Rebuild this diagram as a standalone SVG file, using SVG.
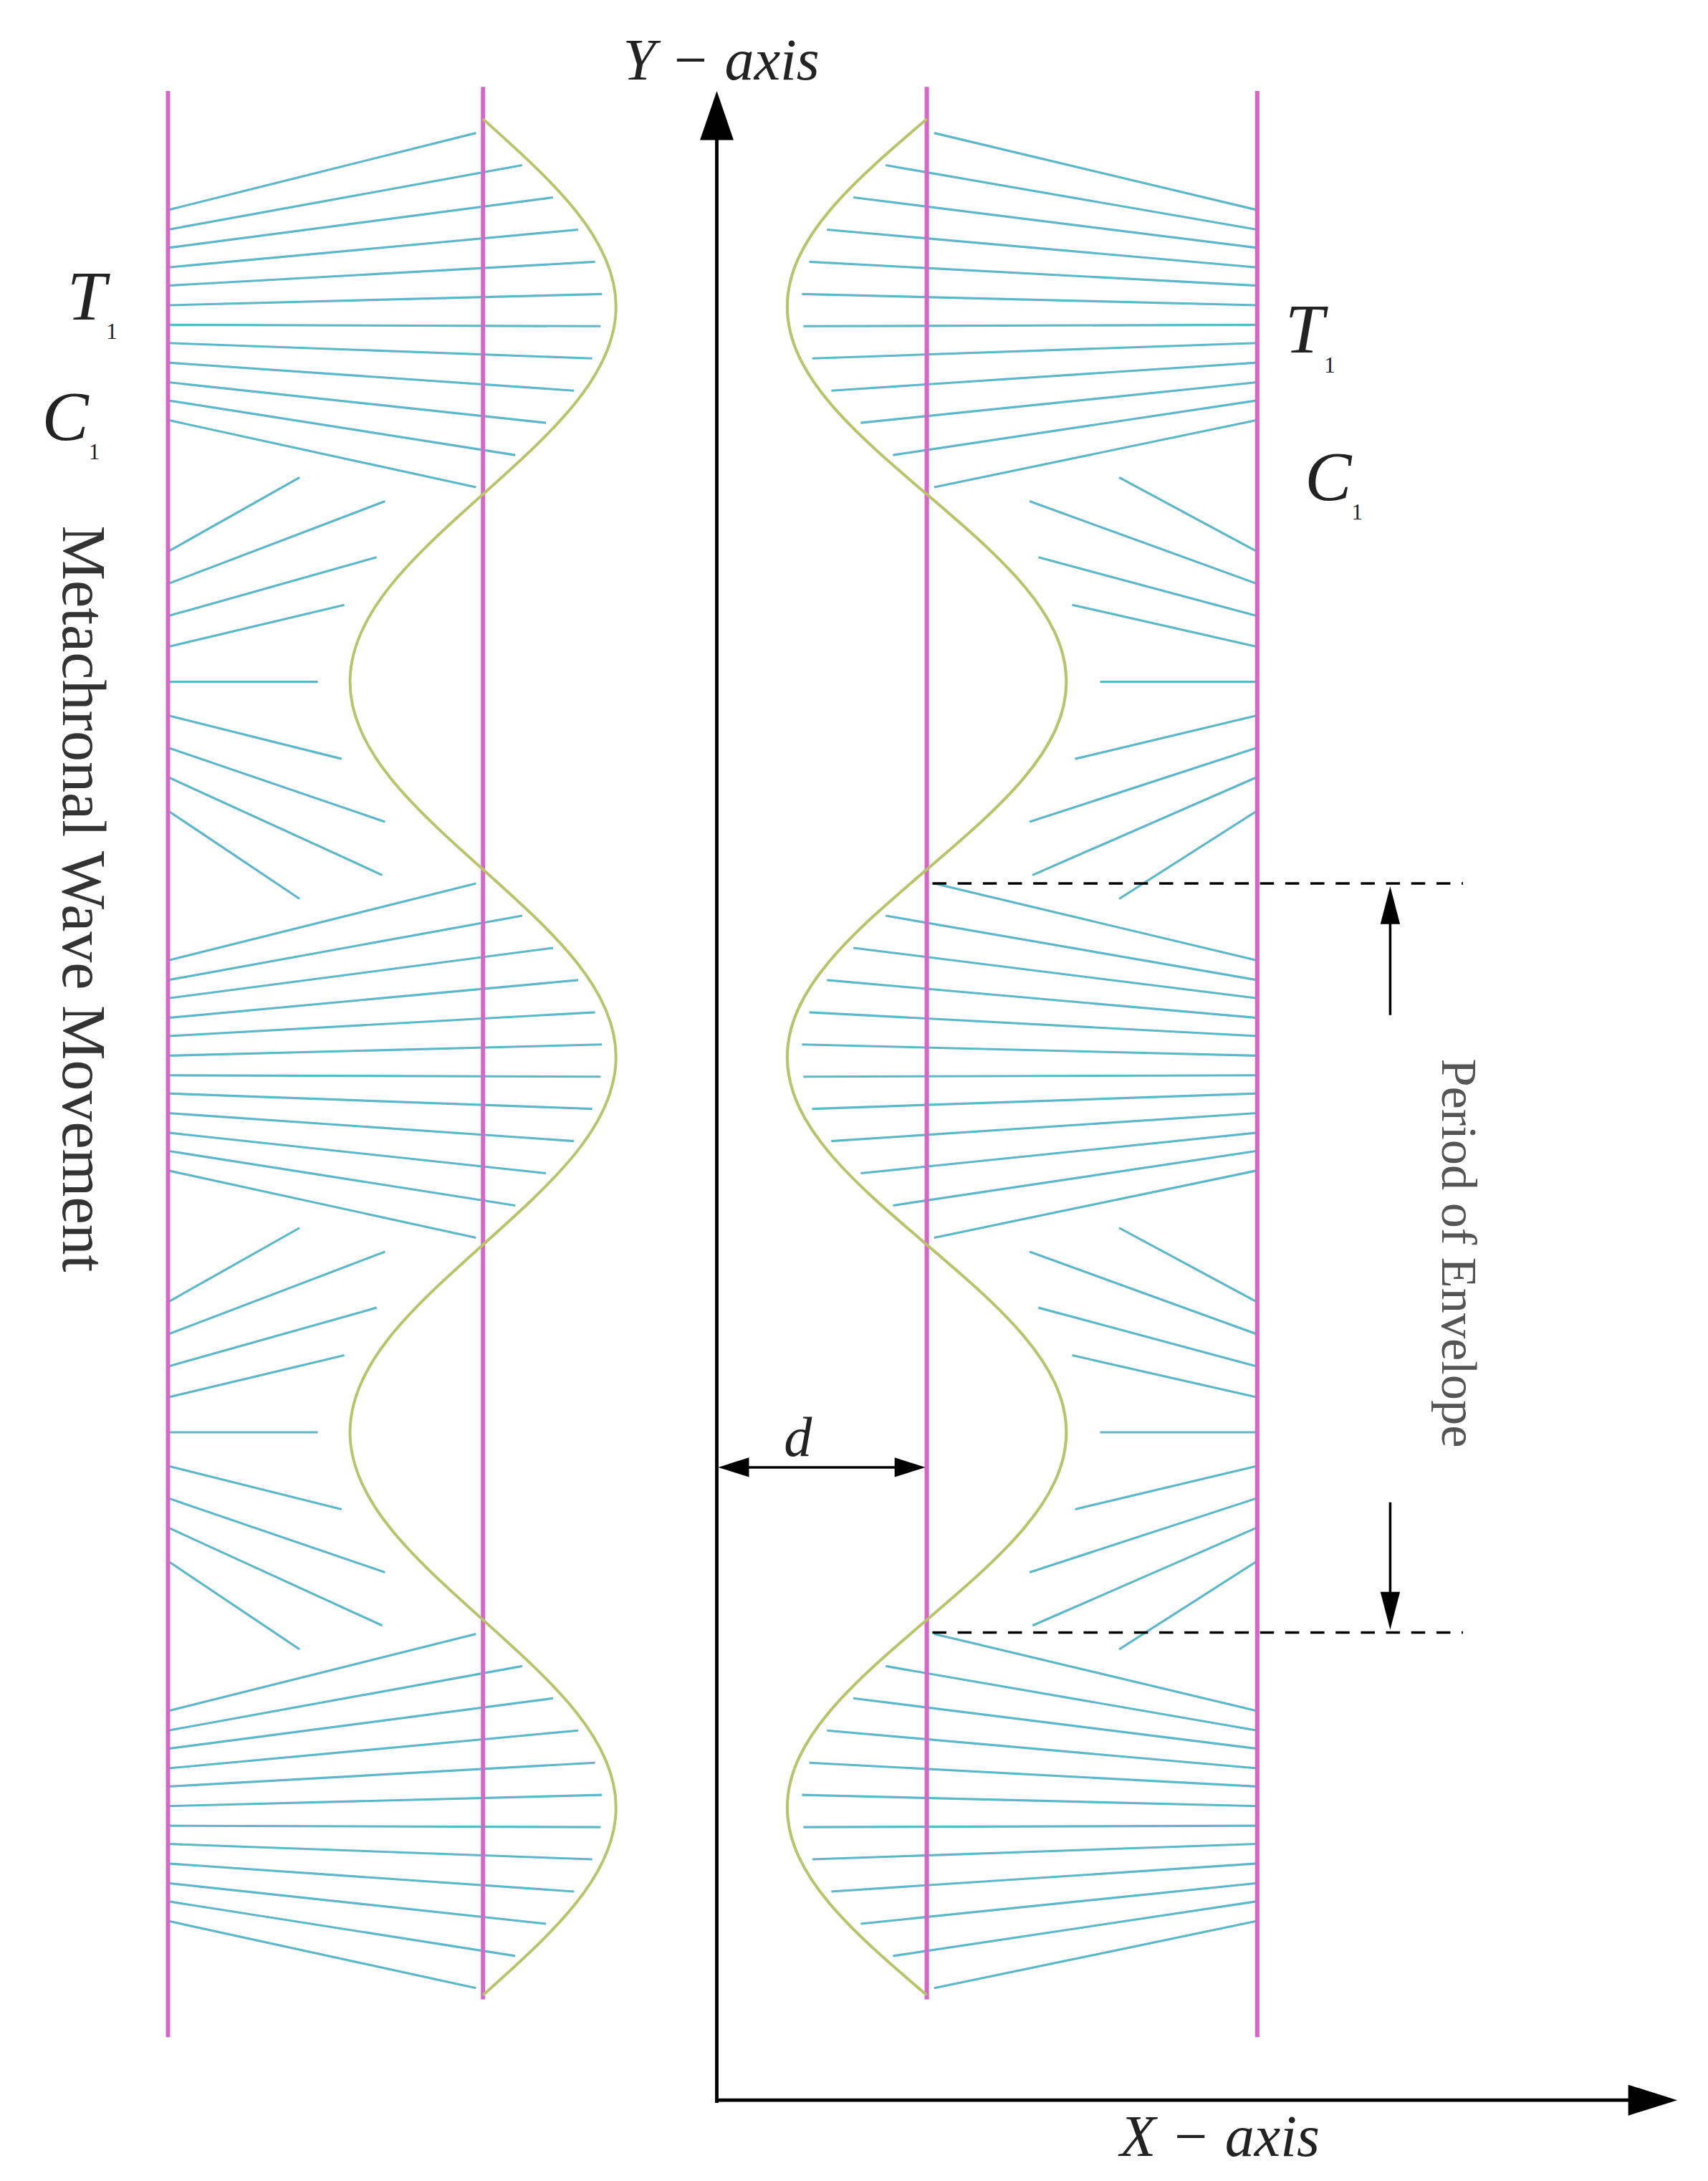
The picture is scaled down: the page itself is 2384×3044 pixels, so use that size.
<svg xmlns="http://www.w3.org/2000/svg" xmlns:xlink="http://www.w3.org/1999/xlink" width="2384" height="3044" viewBox="0 0 2384 3044">
<style>
.wall{stroke:#d865c8;stroke-width:3;fill:none}
.cil line{stroke:#5cb8c8;stroke-width:1.6}
.wave{stroke:#b9c46a;stroke-width:2;fill:none}
.ax{stroke:#000;stroke-width:2.5;fill:none}
.dash{stroke:#000;stroke-width:1.8;stroke-dasharray:10,8;fill:none}
.lab{font-family:"Liberation Serif",serif;font-style:italic;fill:#222}
</style>
<defs>
<g id="lobeA" class="cil">
<line x1="120" y1="150" x2="340" y2="95"/><line x1="120" y1="164" x2="373" y2="118"/>
<line x1="120" y1="177" x2="395" y2="141"/><line x1="120" y1="191" x2="413" y2="164"/>
<line x1="120" y1="204" x2="425" y2="187"/><line x1="120" y1="218" x2="430" y2="210"/>
<line x1="120" y1="232" x2="429" y2="233"/><line x1="120" y1="245" x2="423" y2="256"/>
<line x1="120" y1="259" x2="410" y2="279"/><line x1="120" y1="273" x2="390" y2="302"/>
<line x1="120" y1="286" x2="368" y2="325"/><line x1="120" y1="300" x2="340" y2="348"/>
</g>
<g id="lobeB" class="cil">
<line x1="120" y1="394" x2="214" y2="341"/><line x1="120" y1="417" x2="275" y2="358"/>
<line x1="120" y1="440" x2="269" y2="398"/><line x1="120" y1="462" x2="246" y2="432"/>
<line x1="120" y1="487" x2="227" y2="487"/><line x1="120" y1="511" x2="244" y2="542"/>
<line x1="120" y1="534" x2="275" y2="587"/><line x1="120" y1="555" x2="273" y2="625"/>
<line x1="120" y1="579" x2="214" y2="642"/>
</g>
<g id="panel">
<use xlink:href="#lobeA"/><use xlink:href="#lobeA" y="536"/><use xlink:href="#lobeA" y="1072"/>
<use xlink:href="#lobeB"/><use xlink:href="#lobeB" y="536"/>
<line class="wall" x1="120" y1="65" x2="120" y2="1455"/>
<line class="wall" x1="345" y1="62" x2="345" y2="1428"/>
<path class="wave" d="M345,85 C395,129.8 440,170.3 440,219 C440,267.7 395,308.2 345,353 C295,397.8 250,438.3 250,487 C250,535.7 295,576.2 345,621 C395,665.8 440,706.3 440,755 C440,803.7 395,844.2 345,889 C295,933.8 250,974.3 250,1023 C250,1071.7 295,1112.2 345,1157 C395,1201.8 440,1242.3 440,1291 C440,1339.7 395,1380.2 345,1425"/>
</g>
</defs>
<rect width="2384" height="3044" fill="#fff"/>
<g transform="scale(1.9541)">
<g id="left-panel"><use xlink:href="#panel"/></g>
<g id="right-panel"><use xlink:href="#panel" transform="matrix(-1.049,0,0,1,1023.9,0)"/></g>
<g id="connectors">
<line class="ax" x1="512" y1="1502" x2="512" y2="95"/>
<polygon points="512,65 500,100 524,100" fill="#000"/>
<line class="ax" x1="511" y1="1500" x2="1168" y2="1500"/>
<polygon points="1198,1500 1163,1489 1163,1511" fill="#000"/>
<line class="ax" x1="530" y1="1048" x2="645" y2="1048" style="stroke-width:1.8"/>
<polygon points="513,1048 535,1041 535,1055" fill="#000"/>
<polygon points="661,1048 639,1041 639,1055" fill="#000"/>
<line class="dash" x1="666" y1="631" x2="1045" y2="631"/>
<line class="dash" x1="666" y1="1166" x2="1045" y2="1166"/>
<line class="ax" x1="993" y1="725" x2="993" y2="655" style="stroke-width:1.8"/>
<polygon points="993,633 986,660 1000,660" fill="#000"/>
<line class="ax" x1="993" y1="1073" x2="993" y2="1143" style="stroke-width:1.8"/>
<polygon points="993,1164 986,1137 1000,1137" fill="#000"/>
</g>
<g id="labels">
<text class="lab" x="445" y="57" font-size="42">Y − axis</text>
<text class="lab" x="800" y="1540" font-size="42">X − axis</text>
<text class="lab" x="560" y="1040" font-size="40">d</text>
<text class="lab" x="48" y="228" font-size="50">T<tspan font-size="16" font-style="normal" dy="14">1</tspan></text>
<text class="lab" x="30" y="314" font-size="50">C<tspan font-size="16" font-style="normal" dy="14">1</tspan></text>
<text class="lab" x="918" y="252" font-size="50">T<tspan font-size="16" font-style="normal" dy="14">1</tspan></text>
<text class="lab" x="932" y="357" font-size="50">C<tspan font-size="16" font-style="normal" dy="14">1</tspan></text>
<text x="0" y="0" font-family="Liberation Serif,serif" font-size="44" fill="#333" text-anchor="middle" transform="translate(45,642) rotate(90)">Metachronal Wave Movement</text>
<text x="0" y="0" font-family="Liberation Serif,serif" font-size="36" fill="#555" text-anchor="middle" transform="translate(1030,895) rotate(90)">Period of Envelope</text>
</g>
</g>
</svg>
